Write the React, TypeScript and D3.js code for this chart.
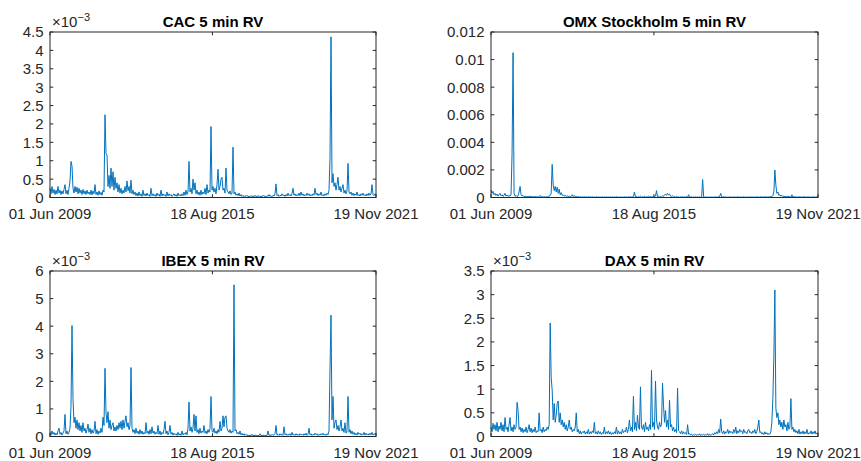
import React, { useRef, useEffect } from 'react';
import * as d3 from 'd3';

const startDate = new Date(2009, 5, 1);
const endDate = new Date(2021, 10, 19);
const xTickDates = [new Date(2009, 5, 1), new Date(2015, 7, 18), new Date(2021, 10, 19)];

// values in units of 1e-3
const cacRV = [
  0.25, 0.1, 0.3, 0.12, 0.22, 0.08, 0.2, 0.1, 0.3, 0.12, 0.2, 0.08, 0.18, 0.1, 0.22, 0.35, 0.1, 0.2, 0.08, 0.25,
  0.45, 0.98, 0.85, 0.25, 0.12, 0.3, 0.15, 0.28, 0.1, 0.25, 0.12, 0.2, 0.08, 0.22, 0.1, 0.18, 0.08, 0.2, 0.1, 0.15,
  0.08, 0.2, 0.07, 0.18, 0.1, 0.35, 0.08, 0.15, 0.06, 0.18, 0.08, 0.14, 0.06, 0.2, 0.15, 2.25, 1.2, 1.15, 0.3, 0.6,
  0.25, 0.8, 0.3, 0.7, 0.2, 0.55, 0.25, 0.4, 0.15, 0.35, 0.12, 0.25, 0.1, 0.2, 0.12, 0.3, 0.15, 0.45, 0.18, 0.3,
  0.12, 0.47, 0.1, 0.2, 0.08, 0.15, 0.05, 0.12, 0.04, 0.15, 0.05, 0.1, 0.03, 0.2, 0.05, 0.1, 0.04, 0.12, 0.05, 0.08,
  0.03, 0.25, 0.05, 0.1, 0.04, 0.08, 0.03, 0.12, 0.05, 0.09, 0.03, 0.2, 0.04, 0.1, 0.05, 0.08, 0.03, 0.15, 0.04, 0.1,
  0.05, 0.08, 0.03, 0.06, 0.1, 0.04, 0.08, 0.03, 0.12, 0.05, 0.08, 0.04, 0.1, 0.05, 0.15, 0.06, 0.2, 0.08, 0.15, 0.98,
  0.15, 0.25, 0.1, 0.5, 0.2, 0.4, 0.1, 0.2, 0.08, 0.15, 0.06, 0.2, 0.08, 0.15, 0.1, 0.25, 0.08, 0.35, 0.12, 0.2,
  0.15, 1.93, 0.2, 0.3, 0.15, 0.25, 0.1, 0.35, 0.77, 0.2, 0.3, 0.5, 0.55, 0.2, 0.25, 0.12, 0.8, 0.2, 0.15, 0.1,
  0.18, 0.08, 0.12, 1.37, 0.1, 0.15, 0.06, 0.1, 0.05, 0.12, 0.04, 0.08, 0.03, 0.06, 0.02, 0.05, 0.03, 0.06, 0.02, 0.04,
  0.02, 0.05, 0.03, 0.04, 0.02, 0.06, 0.02, 0.04, 0.03, 0.05, 0.02, 0.04, 0.02, 0.06, 0.03, 0.04, 0.02, 0.05, 0.03, 0.08,
  0.03, 0.05, 0.02, 0.06, 0.04, 0.1, 0.37, 0.05, 0.08, 0.03, 0.06, 0.04, 0.1, 0.05, 0.07, 0.03, 0.08, 0.04, 0.12, 0.05,
  0.08, 0.04, 0.1, 0.25, 0.06, 0.1, 0.04, 0.08, 0.05, 0.12, 0.05, 0.15, 0.06, 0.1, 0.04, 0.08, 0.05, 0.12, 0.06, 0.1,
  0.04, 0.08, 0.05, 0.1, 0.06, 0.25, 0.08, 0.12, 0.05, 0.1, 0.06, 0.15, 0.05, 0.08, 0.04, 0.1, 0.06, 0.12, 0.08, 0.2,
  1.05, 4.37, 0.4, 0.65, 0.3, 0.4, 0.2, 0.35, 0.55, 0.2, 0.3, 0.15, 0.25, 0.35, 0.12, 0.2, 0.1, 0.18, 0.93, 0.15,
  0.1, 0.15, 0.06, 0.12, 0.05, 0.1, 0.06, 0.15, 0.05, 0.08, 0.04, 0.1, 0.06, 0.12, 0.05, 0.08, 0.04, 0.1, 0.05, 0.12,
  0.06, 0.1, 0.35, 0.08, 0.05, 0.1, 0.06,
];

const omxRV = [
  0.55, 0.3, 0.45, 0.2, 0.3, 0.15, 0.25, 0.1, 0.2, 0.3, 0.12, 0.2, 0.08, 0.15, 0.3, 0.1, 0.18, 0.08, 0.15, 0.1,
  0.25, 3.2, 10.5, 0.3, 0.1, 0.15, 0.06, 0.12, 0.4, 0.8, 0.2, 0.1, 0.15, 0.06, 0.1, 0.05, 0.08, 0.04, 0.1, 0.05,
  0.08, 0.04, 0.06, 0.03, 0.08, 0.04, 0.05, 0.03, 0.06, 0.15, 0.04, 0.05, 0.03, 0.06, 0.03, 0.05, 0.04, 0.08, 0.1, 0.15,
  0.3, 2.4, 0.9, 0.5, 0.8, 0.4, 0.75, 0.3, 0.6, 0.2, 0.35, 0.15, 0.2, 0.1, 0.15, 0.08, 0.12, 0.06, 0.1, 0.05,
  0.08, 0.2, 0.06, 0.15, 0.05, 0.08, 0.04, 0.06, 0.03, 0.05, 0.02, 0.04, 0.03, 0.06, 0.02, 0.04, 0.02, 0.05, 0.03, 0.04,
  0.02, 0.05, 0.02, 0.03, 0.02, 0.06, 0.02, 0.04, 0.02, 0.03, 0.02, 0.05, 0.02, 0.03, 0.02, 0.04, 0.02, 0.03, 0.02, 0.05,
  0.02, 0.03, 0.02, 0.04, 0.02, 0.06, 0.02, 0.03, 0.02, 0.04, 0.02, 0.03, 0.02, 0.05, 0.02, 0.03, 0.02, 0.04, 0.03, 0.06,
  0.03, 0.05, 0.08, 0.4, 0.05, 0.08, 0.03, 0.06, 0.04, 0.1, 0.03, 0.06, 0.04, 0.08, 0.03, 0.05, 0.04, 0.1, 0.05, 0.08,
  0.04, 0.06, 0.03, 0.08, 0.1, 0.5, 0.05, 0.1, 0.04, 0.08, 0.05, 0.12, 0.08, 0.2, 0.25, 0.15, 0.3, 0.2, 0.25, 0.1,
  0.08, 0.12, 0.05, 0.08, 0.03, 0.06, 0.03, 0.05, 0.02, 0.04, 0.03, 0.06, 0.02, 0.04, 0.03, 0.05, 0.02, 0.2, 0.03, 0.02,
  0.04, 0.02, 0.03, 0.02, 0.05, 0.02, 0.03, 0.02, 0.04, 0.02, 0.05, 1.3, 0.05, 0.03, 0.02, 0.04, 0.02, 0.03, 0.02, 0.04,
  0.02, 0.03, 0.02, 0.05, 0.02, 0.04, 0.03, 0.06, 0.08, 0.3, 0.05, 0.03, 0.06, 0.02, 0.04, 0.02, 0.03, 0.02, 0.05, 0.02,
  0.03, 0.02, 0.04, 0.02, 0.03, 0.02, 0.06, 0.02, 0.03, 0.02, 0.04, 0.02, 0.05, 0.02, 0.03, 0.02, 0.04, 0.02, 0.03, 0.05,
  0.02, 0.04, 0.02, 0.03, 0.02, 0.06, 0.02, 0.03, 0.02, 0.05, 0.03, 0.04, 0.02, 0.06, 0.03, 0.04, 0.02, 0.05, 0.03, 0.08,
  0.05, 0.15, 0.4, 2.0, 0.9, 0.3, 0.4, 0.15, 0.2, 0.1, 0.15, 0.06, 0.12, 0.05, 0.08, 0.04, 0.1, 0.04, 0.06, 0.03,
  0.2, 0.04, 0.06, 0.03, 0.05, 0.02, 0.04, 0.03, 0.05, 0.02, 0.04, 0.02, 0.06, 0.02, 0.03, 0.02, 0.05, 0.02, 0.03, 0.02,
  0.04, 0.02, 0.05, 0.02, 0.03, 0.04, 0.05,
];

const ibexRV = [
  0.15, 0.05, 0.2, 0.08, 0.15, 0.05, 0.12, 0.06, 0.2, 0.3, 0.08, 0.15, 0.05, 0.12, 0.2, 0.8, 0.1, 0.2, 0.08, 0.15,
  0.3, 1.1, 4.02, 1.35, 0.5, 0.7, 0.3, 0.6, 0.25, 0.5, 0.2, 0.4, 0.15, 0.5, 0.2, 0.3, 0.12, 0.25, 0.45, 0.15,
  0.3, 0.1, 0.25, 0.12, 0.2, 0.55, 0.1, 0.25, 0.08, 0.2, 0.12, 0.3, 0.15, 0.7, 0.4, 2.47, 0.85, 0.5, 0.9, 0.3,
  0.6, 0.25, 0.4, 0.5, 0.2, 0.35, 0.2, 0.4, 0.25, 0.5, 0.3, 0.55, 0.25, 0.6, 0.3, 0.55, 0.75, 0.35, 0.5, 0.25,
  0.4, 2.5, 0.3, 0.15, 0.25, 0.1, 0.3, 0.12, 0.2, 0.08, 0.25, 0.1, 0.2, 0.08, 0.15, 0.1, 0.5, 0.12, 0.2, 0.08,
  0.25, 0.1, 0.35, 0.12, 0.2, 0.08, 0.15, 0.1, 0.4, 0.08, 0.2, 0.06, 0.15, 0.1, 0.25, 0.55, 0.1, 0.2, 0.06, 0.15,
  0.4, 0.08, 0.15, 0.05, 0.12, 0.06, 0.1, 0.04, 0.15, 0.05, 0.1, 0.04, 0.2, 0.06, 0.12, 0.08, 0.15, 0.06, 0.3, 1.25,
  0.2, 0.35, 0.15, 0.3, 0.8, 0.2, 0.75, 0.15, 0.25, 0.1, 0.3, 0.12, 0.2, 0.15, 0.4, 0.12, 0.2, 0.1, 0.25, 0.15,
  0.3, 1.45, 0.2, 0.15, 0.3, 0.12, 0.2, 0.1, 0.25, 0.15, 0.55, 0.2, 0.3, 0.75, 0.35, 0.7, 0.75, 0.3, 0.2, 0.15,
  0.25, 0.12, 0.2, 0.15, 5.5, 0.2, 0.25, 0.1, 0.15, 0.08, 0.2, 0.06, 0.12, 0.05, 0.1, 0.04, 0.08, 0.03, 0.06, 0.02,
  0.05, 0.03, 0.08, 0.02, 0.05, 0.03, 0.06, 0.02, 0.04, 0.03, 0.1, 0.02, 0.05, 0.03, 0.06, 0.02, 0.04, 0.03, 0.2, 0.04,
  0.06, 0.03, 0.08, 0.04, 0.06, 0.1, 0.4, 0.05, 0.08, 0.04, 0.1, 0.05, 0.08, 0.04, 0.35, 0.06, 0.1, 0.04, 0.08, 0.05,
  0.1, 0.04, 0.15, 0.05, 0.08, 0.04, 0.1, 0.05, 0.08, 0.04, 0.1, 0.06, 0.08, 0.04, 0.1, 0.05, 0.12, 0.04, 0.08, 0.3,
  0.06, 0.1, 0.04, 0.08, 0.05, 0.12, 0.06, 0.1, 0.04, 0.08, 0.05, 0.1, 0.06, 0.12, 0.05, 0.08, 0.04, 0.1, 0.06, 0.2,
  2.45, 4.4, 0.6, 1.45, 0.3, 0.5, 0.6, 0.25, 0.4, 0.2, 0.35, 0.6, 0.2, 0.3, 0.15, 0.5, 0.12, 0.2, 1.45, 0.15,
  0.25, 0.1, 0.2, 0.08, 0.15, 0.06, 0.12, 0.05, 0.15, 0.08, 0.12, 0.05, 0.1, 0.06, 0.15, 0.05, 0.12, 0.06, 0.1, 0.05,
  0.12, 0.06, 0.15, 0.05, 0.1, 0.08, 0.12,
];

const daxRV = [
  0.2, 0.1, 0.28, 0.15, 0.25, 0.12, 0.3, 0.1, 0.22, 0.15, 0.3, 0.12, 0.25, 0.1, 0.4, 0.15, 0.2, 0.1, 0.25, 0.4,
  0.12, 0.2, 0.1, 0.25, 0.15, 0.2, 0.72, 0.55, 0.15, 0.2, 0.1, 0.18, 0.08, 0.15, 0.1, 0.2, 0.08, 0.15, 0.25, 0.1,
  0.18, 0.08, 0.15, 0.1, 0.2, 0.08, 0.12, 0.1, 0.5, 0.12, 0.15, 0.08, 0.2, 0.1, 0.15, 0.12, 0.2, 0.15, 0.25, 2.4,
  1.25, 0.98, 0.35, 0.7, 0.3, 0.45, 0.7, 0.75, 0.3, 0.5, 0.25, 0.35, 0.2, 0.3, 0.15, 0.25, 0.12, 0.2, 0.35, 0.15,
  0.2, 0.1, 0.15, 0.12, 0.2, 0.5, 0.1, 0.15, 0.06, 0.12, 0.05, 0.1, 0.08, 0.12, 0.05, 0.1, 0.06, 0.15, 0.05, 0.1,
  0.06, 0.12, 0.08, 0.3, 0.06, 0.1, 0.05, 0.12, 0.06, 0.1, 0.04, 0.08, 0.06, 0.2, 0.05, 0.1, 0.06, 0.12, 0.05, 0.1,
  0.04, 0.08, 0.05, 0.1, 0.06, 0.2, 0.05, 0.12, 0.06, 0.1, 0.05, 0.15, 0.08, 0.12, 0.1, 0.2, 0.08, 0.15, 0.35, 0.12,
  0.2, 0.1, 0.85, 0.15, 0.3, 0.12, 0.45, 0.2, 0.15, 1.05, 0.2, 0.15, 0.25, 0.1, 0.3, 0.15, 0.2, 0.12, 0.25, 0.15,
  1.4, 0.2, 0.3, 0.15, 1.17, 0.35, 0.2, 0.15, 0.3, 0.2, 0.25, 1.13, 0.65, 0.3, 0.55, 0.2, 0.35, 0.15, 0.77, 0.2,
  0.25, 0.12, 0.2, 0.1, 0.15, 0.08, 1.02, 0.12, 0.1, 0.06, 0.12, 0.05, 0.1, 0.06, 0.08, 0.04, 0.25, 0.05, 0.06, 0.03,
  0.05, 0.02, 0.04, 0.03, 0.05, 0.02, 0.04, 0.03, 0.06, 0.02, 0.04, 0.03, 0.05, 0.02, 0.04, 0.03, 0.06, 0.02, 0.05, 0.03,
  0.04, 0.06, 0.03, 0.08, 0.05, 0.1, 0.06, 0.15, 0.08, 0.37, 0.1, 0.06, 0.12, 0.05, 0.1, 0.08, 0.15, 0.06, 0.12, 0.08,
  0.1, 0.06, 0.15, 0.08, 0.2, 0.06, 0.12, 0.08, 0.15, 0.1, 0.12, 0.06, 0.15, 0.08, 0.1, 0.06, 0.12, 0.15, 0.08, 0.1,
  0.06, 0.12, 0.08, 0.15, 0.06, 0.1, 0.2, 0.35, 0.08, 0.1, 0.05, 0.08, 0.04, 0.1, 0.05, 0.08, 0.04, 0.06, 0.05, 0.1,
  0.3, 0.8, 1.7, 3.1, 0.6, 0.4, 0.5, 0.25, 0.35, 0.2, 0.3, 0.15, 0.35, 0.2, 0.25, 0.12, 0.3, 0.15, 0.2, 0.8,
  0.15, 0.2, 0.1, 0.15, 0.08, 0.12, 0.06, 0.15, 0.05, 0.1, 0.06, 0.12, 0.05, 0.1, 0.06, 0.15, 0.05, 0.08, 0.06, 0.12,
  0.05, 0.1, 0.06, 0.12, 0.05, 0.08, 0.06,
];

const cacTicks = [0, 0.5, 1, 1.5, 2, 2.5, 3, 3.5, 4, 4.5];
const omxTicks = [0, 2, 4, 6, 8, 10, 12];
const omxTickLabels = ['0', '0.002', '0.004', '0.006', '0.008', '0.01', '0.012'];
const ibexTicks = [0, 1, 2, 3, 4, 5, 6];
const daxTicks = [0, 0.5, 1, 1.5, 2, 2.5, 3, 3.5];

const FONT = '"Liberation Sans", Arial, Helvetica, sans-serif';
const AXIS = '#262626';
const LINE = '#0072BD';

interface Panel {
  title: string;
  values: number[];
  ticks: number[];
  tickLabels?: string[];
  exponent: boolean;
  left: number;
  top: number;
  right: number;
  bottom: number;
}

const panels: Panel[] = [
  { title: 'CAC 5 min RV', values: cacRV, ticks: cacTicks, exponent: true, left: 50, top: 32, right: 376, bottom: 197.5 },
  { title: 'OMX Stockholm 5 min RV', values: omxRV, ticks: omxTicks, tickLabels: omxTickLabels, exponent: false, left: 491, top: 32, right: 818, bottom: 197.5 },
  { title: 'IBEX 5 min RV', values: ibexRV, ticks: ibexTicks, exponent: true, left: 50, top: 271, right: 376, bottom: 436.5 },
  { title: 'DAX 5 min RV', values: daxRV, ticks: daxTicks, exponent: true, left: 491, top: 271, right: 818, bottom: 436.5 },
];

const App: React.FC = () => {
  const svgRef = useRef<SVGSVGElement>(null);

  useEffect(() => {
    if (!svgRef.current) return;
    const svg = d3.select(svgRef.current);
    svg.selectAll('*').remove();

    const fmtDate = d3.timeFormat('%d %b %Y');

    panels.forEach(p => {
      const n = p.values.length;
      const step = (endDate.getTime() - startDate.getTime()) / (n - 1);
      const dates = p.values.map((_, i) => new Date(startDate.getTime() + i * step));

      const x = d3.scaleTime().domain([startDate, endDate]).range([p.left, p.right]);
      const y = d3.scaleLinear()
        .domain([0, p.ticks[p.ticks.length - 1]])
        .range([p.bottom, p.top]);

      const g = svg.append('g');

      // series
      const line = d3.line<number>()
        .x((_, i) => x(dates[i]))
        .y(d => y(d));
      g.append('path')
        .datum(p.values)
        .attr('d', line)
        .attr('fill', 'none')
        .attr('stroke', LINE)
        .attr('stroke-width', 1);

      // box
      g.append('rect')
        .attr('x', p.left)
        .attr('y', p.top)
        .attr('width', p.right - p.left)
        .attr('height', p.bottom - p.top)
        .attr('fill', 'none')
        .attr('stroke', AXIS)
        .attr('stroke-width', 1);

      const tl = 3.3;
      // y ticks, both sides, pointing inward
      p.ticks.forEach((t, k) => {
        const yy = y(t);
        g.append('line').attr('x1', p.left).attr('x2', p.left + tl).attr('y1', yy).attr('y2', yy)
          .attr('stroke', AXIS);
        g.append('line').attr('x1', p.right).attr('x2', p.right - tl).attr('y1', yy).attr('y2', yy)
          .attr('stroke', AXIS);
        g.append('text')
          .attr('x', p.left - 6.5)
          .attr('y', yy)
          .attr('dy', '0.36em')
          .attr('text-anchor', 'end')
          .attr('font-family', FONT)
          .attr('font-size', 15)
          .attr('fill', AXIS)
          .text(p.tickLabels ? p.tickLabels[k] : d3.format('~g')(t));
      });

      // x ticks, top and bottom
      xTickDates.forEach(d => {
        const xx = x(d);
        g.append('line').attr('x1', xx).attr('x2', xx).attr('y1', p.bottom).attr('y2', p.bottom - tl)
          .attr('stroke', AXIS);
        g.append('line').attr('x1', xx).attr('x2', xx).attr('y1', p.top).attr('y2', p.top + tl)
          .attr('stroke', AXIS);
        g.append('text')
          .attr('x', xx)
          .attr('y', p.bottom + 21)
          .attr('text-anchor', 'middle')
          .attr('font-family', FONT)
          .attr('font-size', 15)
          .attr('fill', AXIS)
          .text(fmtDate(d));
      });

      // title
      g.append('text')
        .attr('x', (p.left + p.right) / 2)
        .attr('y', p.top - 5.5)
        .attr('text-anchor', 'middle')
        .attr('font-family', FONT)
        .attr('font-size', 15)
        .attr('font-weight', 'bold')
        .attr('fill', '#000')
        .text(p.title);

      // exponent label
      if (p.exponent) {
        const ex = g.append('text')
          .attr('x', p.left + 2)
          .attr('y', p.top - 5.5)
          .attr('font-family', FONT)
          .attr('font-size', 15)
          .attr('fill', AXIS);
        ex.append('tspan').text('\u00d710');
        ex.append('tspan').attr('dy', -6).attr('font-size', 11).text('\u22123');
      }
    });
  }, []);

  return (
    <div style={{ position: 'absolute', left: 0, top: 0 }}>
      <svg ref={svgRef} width={861} height={461} style={{ display: 'block', background: '#fff' }} />
    </div>
  );
};

export default App;
